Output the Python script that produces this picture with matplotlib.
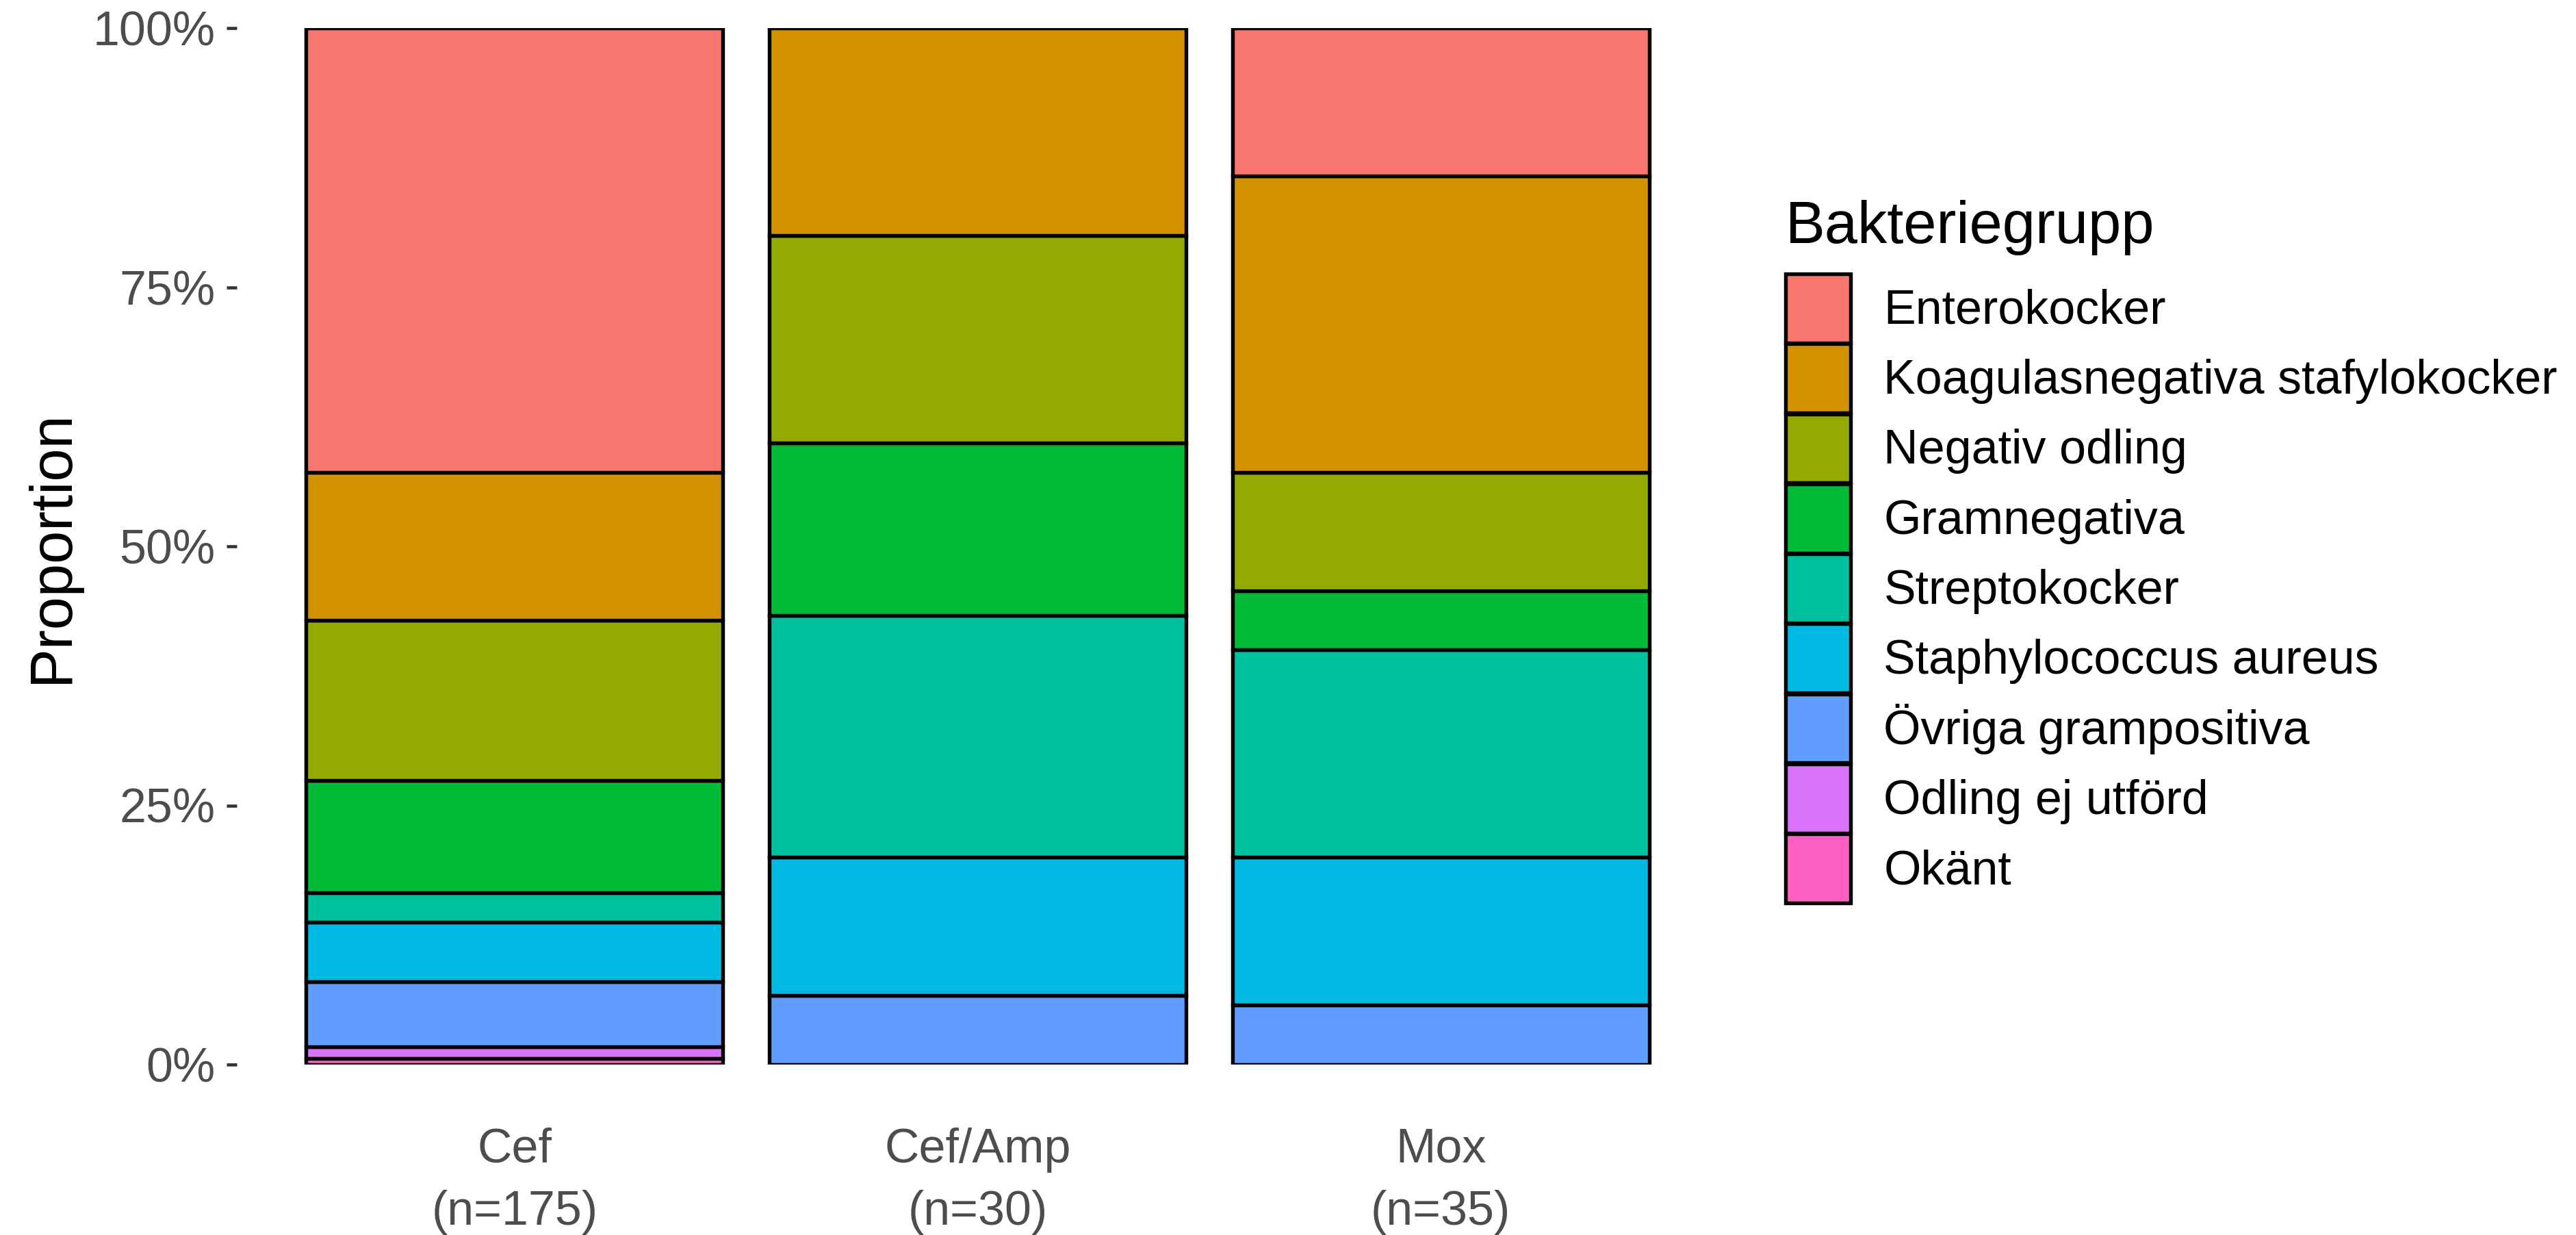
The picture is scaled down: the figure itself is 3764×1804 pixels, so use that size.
import matplotlib
matplotlib.use("Agg")
import matplotlib.pyplot as plt
from matplotlib.patches import Patch
from matplotlib.ticker import FixedLocator, FuncFormatter
import numpy as np

plt.rcParams["font.family"] = ["Liberation Sans", "DejaVu Sans"]

groups = ["Cef", "Cef/Amp", "Mox"]
group_n = [175, 30, 35]

# legend order (top of stack first)
categories = ["Enterokocker", "Koagulasnegativa stafylokocker", "Negativ odling",
              "Gramnegativa", "Streptokocker", "Staphylococcus aureus",
              "Övriga grampositiva", "Odling ej utförd", "Okänt"]

enterokocker = [75, 0, 5]
koagulasneg = [25, 6, 10]
negativ_odling = [27, 6, 4]
gramnegativa = [19, 5, 2]
streptokocker = [5, 7, 7]
staph_aureus = [10, 4, 5]
ovriga_grampos = [11, 2, 2]
odling_ej = [2, 0, 0]
okant = [1, 0, 0]

counts = [enterokocker, koagulasneg, negativ_odling, gramnegativa, streptokocker,
          staph_aureus, ovriga_grampos, odling_ej, okant]

colors = ["#F8766D", "#D39200", "#93AA00", "#00BA38", "#00C19F",
          "#00B9E3", "#619CFF", "#DB72FB", "#FF61C3"]

W, H = 3764, 1804
fig = plt.figure(figsize=(W / 300, H / 300), dpi=300)
ax = fig.add_axes([346 / W, 1 - 1555 / H, (2511 - 346) / W, (1555 - 41) / H])

x = np.arange(1, len(groups) + 1)
tot = np.array(group_n, dtype=float)
bottom = np.zeros(len(groups))
# stack from the last category (bottom) up to the first (top)
for cat, vals, col in reversed(list(zip(categories, counts, colors))):
    frac = np.array(vals) / tot
    keep = frac > 0
    ax.bar(x[keep], frac[keep], bottom=bottom[keep], width=0.9, color=col,
           edgecolor="black", linewidth=1.3)
    bottom += frac

ax.set_xlim(0.4, 3.6)
ax.set_ylim(0, 1)
for s in ax.spines.values():
    s.set_visible(False)

ax.set_xticks(x)
ax.set_xticklabels([f"{g}\n(n={n})" for g, n in zip(groups, group_n)],
                   linespacing=1.5)
ax.tick_params(axis="x", length=0, pad=22, labelsize=16.8, labelcolor="#4D4D4D")
ax.yaxis.set_major_locator(FixedLocator([0, 0.25, 0.5, 0.75, 1.0]))
ax.yaxis.set_major_formatter(FuncFormatter(lambda v, p: f"{int(round(v * 100))}%"))
ax.tick_params(axis="y", length=3.6, width=1.1, color="#333333", pad=4,
               labelsize=16.8, labelcolor="#4D4D4D")

ax.set_ylabel("Proportion", fontsize=20.8, color="black")
ax.yaxis.set_label_coords(-0.106, 0.5)

# legend title drawn separately to get the ggplot-like gap above the keys
fig.text(2609 / W, 1 - 355 / H, "Bakteriegrupp", fontsize=20.8,
         ha="left", va="baseline")
handles = [Patch(facecolor=c, edgecolor="black", linewidth=1.3) for c in colors]
leg = fig.legend(handles, categories, loc="upper left",
                 bbox_to_anchor=(2609 / W, 1 - 400 / H), frameon=False,
                 fontsize=16.8,
                 handlelength=1.35, handleheight=1.84, labelspacing=0.02,
                 handletextpad=0.7, borderpad=0, borderaxespad=0)

fig.savefig("out.png", dpi=300, facecolor="white")
